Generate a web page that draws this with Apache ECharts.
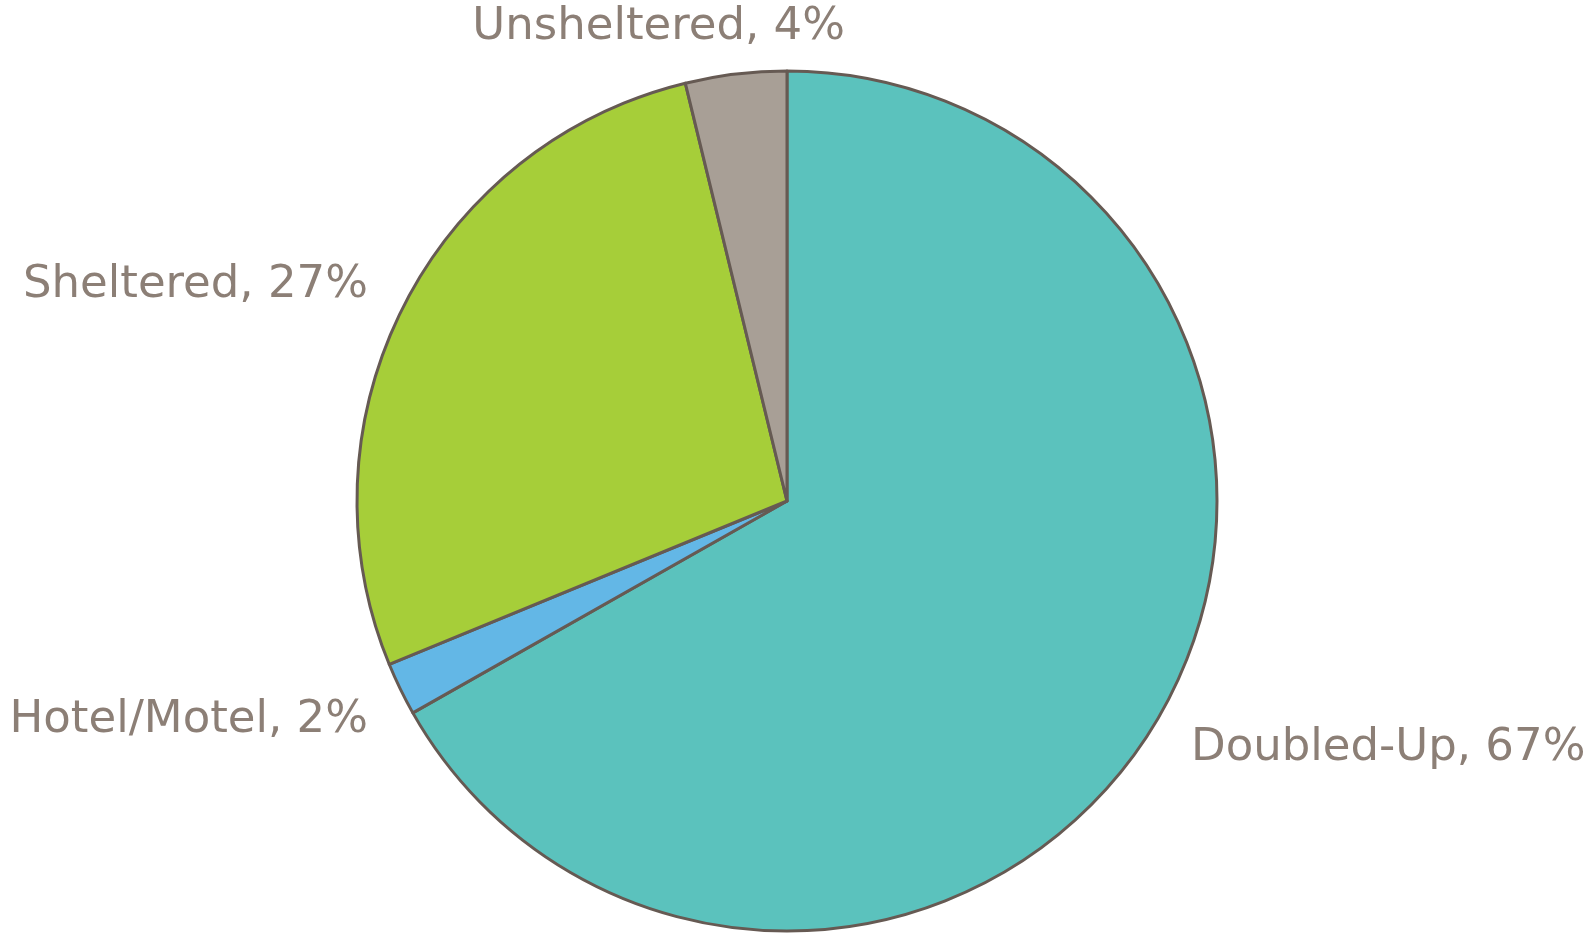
<!DOCTYPE html>
<html>
<head>
<meta charset="utf-8">
<script src="https://cdn.jsdelivr.net/npm/echarts@6/dist/echarts.min.js"></script>
<style>
html,body{margin:0;padding:0;background:#fff;}
#chart{width:1596px;height:934px;}
</style>
</head>
<body>
<div id="chart"></div>
<script>
const categories = ['Doubled-Up', 'Hotel/Motel', 'Sheltered', 'Unsheltered'];
const values = [66.8, 2.0, 27.4, 3.8];
const colors = ['#5BC2BD', '#63B7E6', '#A6CE39', '#A89F96'];
// label anchor placement (layout only)
const labelPlace = [
  { x: 1191, y: 748, align: 'left' },
  { x: 368, y: 720, align: 'right' },
  { x: 368, y: 285, align: 'right' },
  { x: 845, y: 27, align: 'right' }
];

const chart = echarts.init(document.getElementById('chart'));
chart.setOption({
  animation: false,
  backgroundColor: '#ffffff',
  series: [{
    type: 'pie',
    center: [787, 501],
    radius: 430,
    startAngle: 90,
    clockwise: true,
    avoidLabelOverlap: false,
    data: categories.map((c, i) => ({ name: c, value: values[i], itemStyle: { color: colors[i] } })),
    itemStyle: { borderColor: '#665A53', borderWidth: 3 },
    label: {
      show: true,
      position: 'outside',
      fontFamily: 'DejaVu Sans',
      fontSize: 45,
      color: '#8C7F76',
      formatter: p => p.name + ', ' + Math.round(p.percent) + '%'
    },
    labelLine: { show: false, length: 20, length2: 0 },
    labelLayout: p => Object.assign({ verticalAlign: 'middle' }, labelPlace[p.dataIndex])
  }]
});
</script>
</body>
</html>
